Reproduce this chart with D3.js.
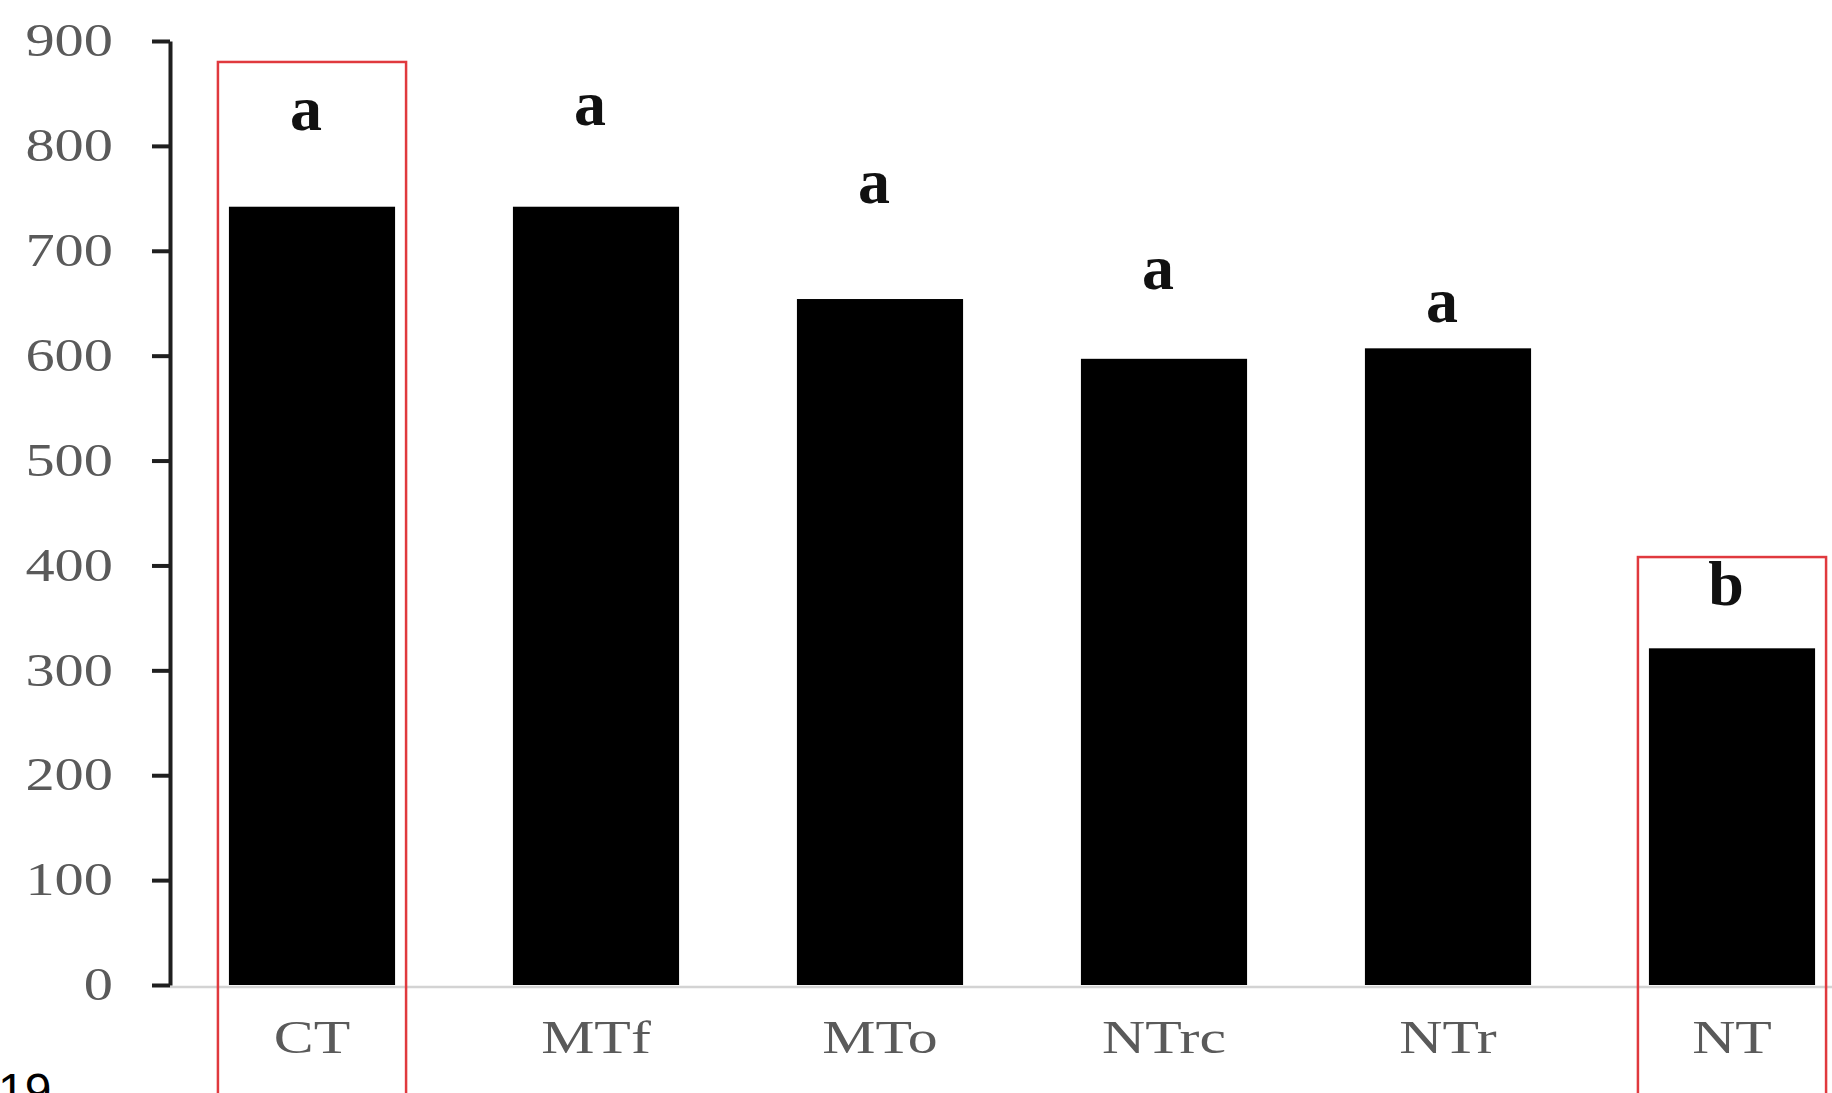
<!DOCTYPE html>
<html>
<head>
<meta charset="utf-8">
<script src="https://cdn.jsdelivr.net/npm/d3@7"></script>
<style>
  html, body { margin: 0; padding: 0; background: #ffffff; overflow: hidden; }
  svg { display: block; }
</style>
</head>
<body>
<svg id="chart" width="1832" height="1093"></svg>
<script>
// ---- data ----
const categories = ["CT", "MTf", "MTo", "NTrc", "NTr", "NT"];
const values = [742, 742, 654, 597, 607, 321];
const letters = ["a", "a", "a", "a", "a", "b"];
const letterLevels = [815, 820, 746, 664, 632, 362];
const yTicks = [0, 100, 200, 300, 400, 500, 600, 700, 800, 900];
const highlighted = ["CT", "NT"];
const highlightTops = [880, 408];
const cornerText = "19";

// ---- layout ----
const W = 1832, H = 1093;
const svg = d3.select("#chart");

const x = d3.scaleBand()
  .domain(categories)
  .range([170, 1874])
  .paddingInner(0.415)
  .paddingOuter(0.2075);

const y = d3.scaleLinear()
  .domain([0, 900])
  .range([985, 41]);

const serif = "'Liberation Serif', 'Times New Roman', serif";

function stretch(sel, factor) {
  sel.each(function () {
    const len = this.getComputedTextLength();
    d3.select(this)
      .attr("textLength", len * factor)
      .attr("lengthAdjust", "spacingAndGlyphs");
  });
}

// x baseline (light grey)
svg.append("line")
  .attr("x1", 170).attr("x2", W)
  .attr("y1", y(0) + 2).attr("y2", y(0) + 2)
  .attr("stroke", "#d3d3d3")
  .attr("stroke-width", 2.5);

// bars
svg.append("g").selectAll("rect")
  .data(categories)
  .join("rect")
  .attr("x", d => x(d))
  .attr("width", x.bandwidth())
  .attr("y", (d, i) => y(values[i]))
  .attr("height", (d, i) => y(0) - y(values[i]))
  .attr("fill", "#000000");

// y axis
const yAxis = d3.axisLeft(y)
  .tickValues(yTicks)
  .tickFormat(d3.format("d"))
  .tickSizeInner(18)
  .tickSizeOuter(0)
  .tickPadding(39);

const gy = svg.append("g")
  .attr("transform", "translate(170,0)")
  .call(yAxis);

gy.select(".domain")
  .attr("stroke", "#1f1f1f")
  .attr("stroke-width", 4);
gy.selectAll(".tick line")
  .attr("stroke", "#1f1f1f")
  .attr("stroke-width", 4);
gy.selectAll(".tick text")
  .attr("font-family", serif)
  .attr("font-size", 46)
  .attr("fill", "#5a5a5a")
  .call(stretch, 1.27);

// category labels
const xAxis = d3.axisBottom(x).tickSize(0).tickPadding(0);
const gx = svg.append("g")
  .attr("transform", "translate(0," + y(0) + ")")
  .call(xAxis);
gx.select(".domain").remove();
gx.selectAll(".tick text")
  .attr("font-family", serif)
  .attr("font-size", 46)
  .attr("fill", "#5a5a5a")
  .attr("y", 68)
  .attr("dy", 0)
  .call(stretch, 1.3);

// significance letters
svg.append("g").selectAll("text")
  .data(categories)
  .join("text")
  .attr("x", d => x(d) + x.bandwidth() / 2 - 6)
  .attr("y", (d, i) => y(letterLevels[i]))
  .attr("text-anchor", "middle")
  .attr("font-family", serif)
  .attr("font-size", 64)
  .attr("font-weight", "bold")
  .attr("fill", "#111111")
  .text((d, i) => letters[i]);

// red highlight boxes (open at bottom, running off the picture)
svg.append("g").selectAll("rect")
  .data(highlighted)
  .join("rect")
  .attr("x", d => x(d) - 11)
  .attr("width", x.bandwidth() + 22)
  .attr("y", (d, i) => y(highlightTops[i]))
  .attr("height", (d, i) => H + 20 - y(highlightTops[i]))
  .attr("fill", "none")
  .attr("stroke", "#e0393e")
  .attr("stroke-width", 2.5);

// cut-off text at bottom-left corner
svg.append("text")
  .attr("x", -2)
  .attr("y", 1107)
  .attr("font-family", "'Liberation Sans', Arial, sans-serif")
  .attr("font-size", 48)
  .attr("fill", "#000000")
  .text(cornerText);
</script>
</body>
</html>
